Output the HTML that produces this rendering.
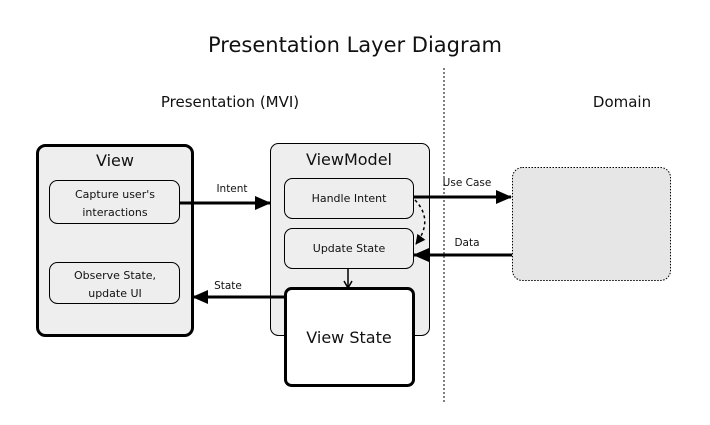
<!DOCTYPE html>
<html><head><style>
body{margin:0;background:#fff;}
svg text{font-family:"DejaVu Sans","Liberation Sans",sans-serif;fill:#111;}
</style></head><body>
<svg width="710" height="420" viewBox="0 0 710 420" xmlns="http://www.w3.org/2000/svg">
<defs>
<marker id="a" markerWidth="10" markerHeight="10" refX="9" refY="5" orient="auto" markerUnits="userSpaceOnUse"><path d="M0,0 L10,5 L0,10 z" fill="#000"/></marker>
<marker id="a2" markerWidth="16" markerHeight="14" refX="15" refY="7" orient="auto" markerUnits="userSpaceOnUse"><path d="M0,0 L16,7 L0,14 z" fill="#000"/></marker>
<marker id="o" markerWidth="10" markerHeight="10" refX="8" refY="5" orient="auto" markerUnits="userSpaceOnUse"><path d="M1,1 L8,5 L1,9" fill="none" stroke="#000" stroke-width="1.5"/></marker>
</defs>
<text x="355" y="52" font-size="21" text-anchor="middle">Presentation Layer Diagram</text>
<text x="230" y="107" font-size="15" text-anchor="middle">Presentation (MVI)</text>
<text x="622" y="107" font-size="15" text-anchor="middle">Domain</text>
<line x1="444" y1="68" x2="444" y2="402" stroke="#000" stroke-width="1" stroke-dasharray="2,2"/>
<rect x="37.5" y="145.5" width="155" height="190" rx="8" fill="#eee" stroke="#000" stroke-width="3"/>
<text x="115" y="166" font-size="16" text-anchor="middle">View</text>
<rect x="49.5" y="180.5" width="130" height="43" rx="8" fill="#eee" stroke="#000"/>
<text x="115" y="198" font-size="11" text-anchor="middle">Capture user's</text>
<text x="115" y="216" font-size="11" text-anchor="middle">interactions</text>
<rect x="49.5" y="262.5" width="130" height="41" rx="8" fill="#eee" stroke="#000"/>
<text x="115" y="279" font-size="11" text-anchor="middle">Observe State,</text>
<text x="115" y="297" font-size="11" text-anchor="middle">update UI</text>
<rect x="270.5" y="143.5" width="159" height="192" rx="8" fill="#eee" stroke="#000"/>
<text x="349" y="165" font-size="16" text-anchor="middle">ViewModel</text>
<rect x="284.5" y="178.5" width="129" height="40" rx="8" fill="#eee" stroke="#000"/>
<text x="349" y="202" font-size="11" text-anchor="middle">Handle Intent</text>
<rect x="284.5" y="228.5" width="129" height="40" rx="8" fill="#eee" stroke="#000"/>
<text x="349" y="252" font-size="11" text-anchor="middle">Update State</text>
<rect x="285.5" y="288.5" width="128" height="97" rx="6" fill="#fff" stroke="#000" stroke-width="3"/>
<text x="349" y="343" font-size="16" text-anchor="middle">View State</text>
<rect x="512.5" y="167.5" width="158" height="113" rx="10" fill="#e6e6e6" stroke="#000" stroke-dasharray="1.5,1.5"/>
<line x1="180" y1="203" x2="270" y2="203" stroke="#000" stroke-width="3" marker-end="url(#a2)"/>
<text x="232" y="192" font-size="10.5" text-anchor="middle">Intent</text>
<line x1="284" y1="297" x2="193" y2="297" stroke="#000" stroke-width="3" marker-end="url(#a2)"/>
<text x="228" y="289" font-size="10.5" text-anchor="middle">State</text>
<line x1="413" y1="197" x2="511" y2="197" stroke="#000" stroke-width="3" marker-end="url(#a2)"/>
<text x="467" y="186" font-size="10.5" text-anchor="middle">Use Case</text>
<line x1="512" y1="255" x2="414" y2="255" stroke="#000" stroke-width="3" marker-end="url(#a2)"/>
<text x="467" y="246" font-size="10.5" text-anchor="middle">Data</text>
<line x1="348" y1="268" x2="348" y2="288" stroke="#000" stroke-width="1.5" marker-end="url(#o)"/>
<path d="M415,200 Q434,220 416,244" fill="none" stroke="#000" stroke-width="1.5" stroke-dasharray="3,3" marker-end="url(#a)"/>
</svg>
</body></html>
